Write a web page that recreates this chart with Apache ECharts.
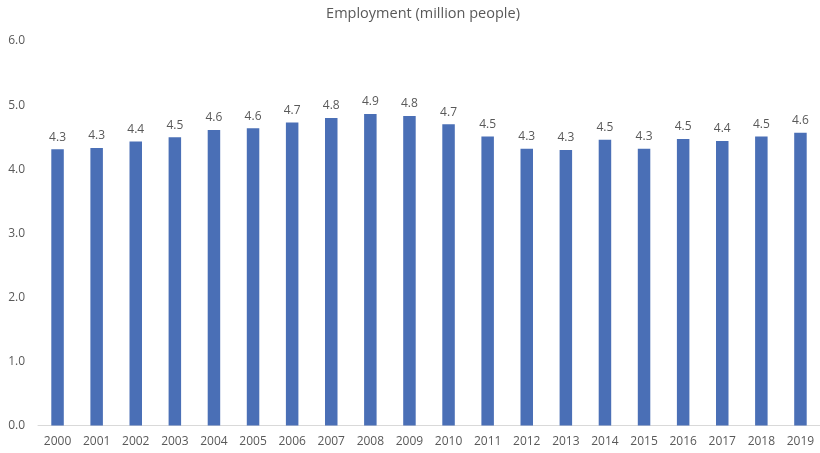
<!DOCTYPE html>
<html>
<head>
<meta charset="utf-8">
<script src="https://cdn.jsdelivr.net/npm/echarts@6/dist/echarts.min.js"></script>
<style>html,body{margin:0;padding:0;background:#fff;}#c{width:820px;height:453px;}</style>
</head>
<body>
<div id="c"></div>
<script>
const categories = ['2000','2001','2002','2003','2004','2005','2006','2007','2008','2009','2010','2011','2012','2013','2014','2015','2016','2017','2018','2019'];
const employment = [4.31,4.33,4.43,4.50,4.61,4.64,4.73,4.80,4.86,4.83,4.70,4.51,4.32,4.30,4.46,4.32,4.47,4.44,4.51,4.57];
const yTicks = [0,1,2,3,4,5,6];
const titleText = 'Employment (million people)';

const chart = echarts.init(document.getElementById('c'));
chart.setOption({
  animation: false,
  backgroundColor: '#ffffff',
  title: {
    text: titleText,
    left: 418, top: 1, textAlign: 'center',
    textStyle: {fontFamily: 'Open Sans', fontSize: 14.5, fontWeight: 'normal', color: '#595959'}
  },
  grid: {left: 38, width: 784, top: 41, bottom: 27.5, containLabel: false},
  xAxis: {
    type: 'category', data: categories,
    axisLine: {lineStyle: {color: '#d9d9d9', width: 1}},
    axisTick: {show: false},
    axisLabel: {color: '#595959', fontFamily: 'Open Sans', fontSize: 12, margin: 10, interval: 0}
  },
  yAxis: {
    type: 'value', min: yTicks[0], max: yTicks[yTicks.length-1], interval: 1,
    axisLine: {show: false}, axisTick: {show: false},
    splitLine: {show: false},
    axisLabel: {color: '#595959', fontFamily: 'Open Sans', fontSize: 12, margin: 13,
      formatter: v => v.toFixed(1)}
  },
  series: [{
    type: 'bar', data: employment, barWidth: 12.5,
    itemStyle: {color: '#4a6fb6'},
    label: {show: true, position: 'top', distance: 6, color: '#595959', fontFamily: 'Open Sans', fontSize: 12,
      formatter: p => p.value.toFixed(1)}
  }]
});
</script>
</body>
</html>
